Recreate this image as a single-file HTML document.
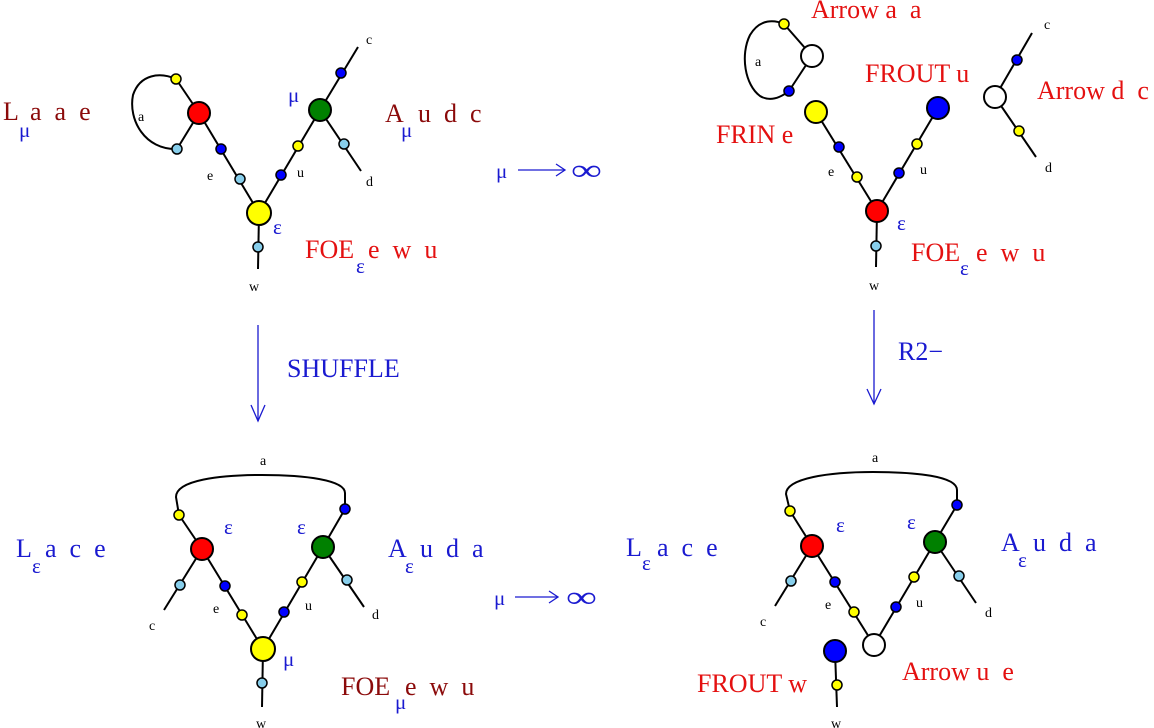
<!DOCTYPE html>
<html><head><meta charset="utf-8"><style>
html,body{margin:0;padding:0;background:#fff;}
svg{display:block;font-family:"Liberation Serif",serif;}
.ln{stroke:#000;stroke-width:2;fill:none;}
.sd{stroke:#000;stroke-width:1.5;}
.bd{stroke:#000;stroke-width:2;}
.sm{font-size:14px;fill:#000;}
.big{font-size:26px;}
.dr{fill:#8b0a0a;}
.rd{fill:#e41010;}
.bl{fill:#1a1ad0;}
.sub{font-size:21px;fill:#1a1ad0;}
.ar{stroke:#1a1ad0;stroke-width:1.3;fill:none;}
</style></head><body>
<svg width="1154" height="728" viewBox="0 0 1154 728">

<!-- TOP LEFT -->
<g>
<path class="ln" d="M176,79 C160,72 140,74 133,95 C128,120 145,150 177,149"/>
<line class="ln" x1="176" y1="79" x2="199" y2="113"/>
<line class="ln" x1="177" y1="149" x2="199" y2="113"/>
<line class="ln" x1="199" y1="113" x2="259" y2="213"/>
<line class="ln" x1="320" y1="110" x2="259" y2="213"/>
<line class="ln" x1="320" y1="110" x2="358" y2="47"/>
<line class="ln" x1="320" y1="110" x2="361" y2="171"/>
<line class="ln" x1="259" y1="213" x2="258" y2="269"/>
<circle class="bd" cx="199" cy="113" r="11" fill="#ff0000"/>
<circle class="bd" cx="320" cy="110" r="11" fill="#008000"/>
<circle class="bd" cx="259" cy="213" r="12" fill="#ffff00"/>
<circle class="sd" cx="176" cy="79" r="5" fill="#ffff00"/>
<circle class="sd" cx="177" cy="149" r="5" fill="#87ceeb"/>
<circle class="sd" cx="221" cy="149" r="5" fill="#0000ff"/>
<circle class="sd" cx="240" cy="179" r="5" fill="#87ceeb"/>
<circle class="sd" cx="281" cy="175" r="5" fill="#0000ff"/>
<circle class="sd" cx="298" cy="146" r="5" fill="#ffff00"/>
<circle class="sd" cx="344" cy="144" r="5" fill="#87ceeb"/>
<circle class="sd" cx="341" cy="73" r="5" fill="#0000ff"/>
<circle class="sd" cx="258" cy="247" r="5" fill="#87ceeb"/>
<text class="sm" x="138" y="121">a</text>
<text class="sm" x="207" y="180">e</text>
<text class="sm" x="297" y="177">u</text>
<text class="sm" x="366" y="44">c</text>
<text class="sm" x="366" y="186">d</text>
<text class="sm" x="249" y="291">w</text>
<text class="sub" x="288" y="102">μ</text>
<text class="sub" x="273" y="234">ε</text>
<text class="big dr" x="3" y="120">L</text>
<text class="sub" x="19" y="137">μ</text>
<text class="big dr" x="30" y="120" xml:space="preserve">a  a  e</text>
<text class="big dr" x="385" y="122">A</text>
<text class="sub" x="401" y="137">μ</text>
<text class="big dr" x="418" y="122" xml:space="preserve">u  d  c</text>
<text class="big rd" x="305" y="258">FOE</text>
<text class="sub" x="356" y="273">ε</text>
<text class="big rd" x="368" y="258" xml:space="preserve">e  w  u</text>
</g>

<g>
<text class="sub" x="496" y="178">μ</text>
<line class="ar" x1="518" y1="170" x2="565" y2="170"/>
<path class="ar" d="M556,164 L565,170 L556,176"/>
<text class="bl" font-size="30" transform="translate(571,180) scale(1.45,1)">∞</text>
</g>

<!-- TOP RIGHT -->
<g>
<path class="ln" d="M784,24 C775,20 760,18 750,35 C740,55 745,85 760,96 C770,102 780,98 789,91"/>
<line class="ln" x1="784" y1="24" x2="812" y2="56"/>
<line class="ln" x1="789" y1="91" x2="812" y2="56"/>
<line class="ln" x1="816" y1="112" x2="877" y2="211"/>
<line class="ln" x1="938" y1="108" x2="877" y2="211"/>
<line class="ln" x1="877" y1="211" x2="876" y2="267"/>
<line class="ln" x1="995" y1="97" x2="1032" y2="33"/>
<line class="ln" x1="995" y1="97" x2="1036" y2="157"/>
<circle class="bd" cx="812" cy="56" r="11" fill="#fff"/>
<circle class="bd" cx="816" cy="112" r="11" fill="#ffff00"/>
<circle class="bd" cx="938" cy="108" r="11" fill="#0000ff"/>
<circle class="bd" cx="877" cy="211" r="11" fill="#ff0000"/>
<circle class="bd" cx="995" cy="97" r="11" fill="#fff"/>
<circle class="sd" cx="784" cy="24" r="5" fill="#ffff00"/>
<circle class="sd" cx="789" cy="91" r="5" fill="#0000ff"/>
<circle class="sd" cx="839" cy="147" r="5" fill="#0000ff"/>
<circle class="sd" cx="857" cy="177" r="5" fill="#ffff00"/>
<circle class="sd" cx="917" cy="144" r="5" fill="#ffff00"/>
<circle class="sd" cx="899" cy="173" r="5" fill="#0000ff"/>
<circle class="sd" cx="876" cy="246" r="5" fill="#87ceeb"/>
<circle class="sd" cx="1017" cy="60" r="5" fill="#0000ff"/>
<circle class="sd" cx="1019" cy="131" r="5" fill="#ffff00"/>
<text class="sm" x="755" y="66">a</text>
<text class="sm" x="828" y="176">e</text>
<text class="sm" x="920" y="174">u</text>
<text class="sm" x="1044" y="29">c</text>
<text class="sm" x="1045" y="172">d</text>
<text class="sm" x="869" y="290">w</text>
<text class="sub" x="897" y="230">ε</text>
<text class="big rd" x="811" y="18" xml:space="preserve">Arrow a  a</text>
<text class="big rd" x="865" y="82" xml:space="preserve">FROUT u</text>
<text class="big rd" x="716" y="143">FRIN e</text>
<text class="big rd" x="1037" y="99" xml:space="preserve">Arrow d  c</text>
<text class="big rd" x="911" y="261">FOE</text>
<text class="sub" x="960" y="275">ε</text>
<text class="big rd" x="976" y="261" xml:space="preserve">e  w  u</text>
</g>

<!-- Vertical arrows -->
<g>
<line class="ar" x1="258" y1="325" x2="258" y2="421"/>
<path class="ar" d="M251,405 L258,421 L265,405"/>
<text class="big bl" x="287" y="377">SHUFFLE</text>
</g>
<g>
<line class="ar" x1="874" y1="310" x2="874" y2="404"/>
<path class="ar" d="M867,389 L874,404 L881,389"/>
<text class="big bl" x="898" y="360">R2−</text>
</g>

<!-- BOTTOM LEFT -->
<g>
<path class="ln" d="M179,515 L176,497 C176,480 220,475 262,475 C305,475 345,480 345,493 L345,509"/>
<line class="ln" x1="179" y1="515" x2="202" y2="549"/>
<line class="ln" x1="202" y1="549" x2="164" y2="610"/>
<line class="ln" x1="202" y1="549" x2="263" y2="649"/>
<line class="ln" x1="323" y1="547" x2="263" y2="649"/>
<line class="ln" x1="323" y1="547" x2="345" y2="509"/>
<line class="ln" x1="323" y1="547" x2="364" y2="607"/>
<line class="ln" x1="263" y1="649" x2="262" y2="707"/>
<circle class="bd" cx="202" cy="549" r="11" fill="#ff0000"/>
<circle class="bd" cx="323" cy="547" r="11" fill="#008000"/>
<circle class="bd" cx="263" cy="649" r="12" fill="#ffff00"/>
<circle class="sd" cx="179" cy="515" r="5" fill="#ffff00"/>
<circle class="sd" cx="345" cy="509" r="5" fill="#0000ff"/>
<circle class="sd" cx="180" cy="585" r="5" fill="#87ceeb"/>
<circle class="sd" cx="225" cy="586" r="5" fill="#0000ff"/>
<circle class="sd" cx="242" cy="615" r="5" fill="#ffff00"/>
<circle class="sd" cx="284" cy="612" r="5" fill="#0000ff"/>
<circle class="sd" cx="302" cy="582" r="5" fill="#ffff00"/>
<circle class="sd" cx="347" cy="580" r="5" fill="#87ceeb"/>
<circle class="sd" cx="262" cy="683" r="5" fill="#87ceeb"/>
<text class="sm" x="260" y="465">a</text>
<text class="sm" x="213" y="613">e</text>
<text class="sm" x="305" y="610">u</text>
<text class="sm" x="149" y="630">c</text>
<text class="sm" x="372" y="619">d</text>
<text class="sm" x="256" y="728">w</text>
<text class="sub" x="224" y="534">ε</text>
<text class="sub" x="297" y="534">ε</text>
<text class="sub" x="283" y="666">μ</text>
<text class="big bl" x="16" y="557">L</text>
<text class="sub" x="32" y="573">ε</text>
<text class="big bl" x="45" y="557" xml:space="preserve">a  c  e</text>
<text class="big bl" x="388" y="557">A</text>
<text class="sub" x="405" y="573">ε</text>
<text class="big bl" x="420" y="557" xml:space="preserve">u  d  a</text>
<text class="big dr" x="341" y="695">FOE</text>
<text class="sub" x="395" y="709">μ</text>
<text class="big dr" x="405" y="695" xml:space="preserve">e  w  u</text>
</g>

<g>
<text class="sub" x="494" y="605">μ</text>
<line class="ar" x1="515" y1="597" x2="558" y2="597"/>
<path class="ar" d="M549,591 L558,597 L549,603"/>
<text class="bl" font-size="30" transform="translate(566,607) scale(1.45,1)">∞</text>
</g>

<!-- BOTTOM RIGHT -->
<g>
<path class="ln" d="M790,511 L786,494 C786,478 830,472 873,472 C915,472 957,476 957,490 L957,505"/>
<line class="ln" x1="790" y1="511" x2="812" y2="546"/>
<line class="ln" x1="812" y1="546" x2="775" y2="606"/>
<line class="ln" x1="812" y1="546" x2="874" y2="645"/>
<line class="ln" x1="935" y1="542" x2="874" y2="645"/>
<line class="ln" x1="935" y1="542" x2="957" y2="505"/>
<line class="ln" x1="935" y1="542" x2="976" y2="603"/>
<line class="ln" x1="835" y1="651" x2="837" y2="707"/>
<circle class="bd" cx="812" cy="546" r="11" fill="#ff0000"/>
<circle class="bd" cx="935" cy="542" r="11" fill="#008000"/>
<circle class="bd" cx="874" cy="645" r="11" fill="#fff"/>
<circle class="bd" cx="835" cy="651" r="11" fill="#0000ff"/>
<circle class="sd" cx="790" cy="511" r="5" fill="#ffff00"/>
<circle class="sd" cx="957" cy="505" r="5" fill="#0000ff"/>
<circle class="sd" cx="791" cy="581" r="5" fill="#87ceeb"/>
<circle class="sd" cx="835" cy="582" r="5" fill="#0000ff"/>
<circle class="sd" cx="854" cy="612" r="5" fill="#ffff00"/>
<circle class="sd" cx="896" cy="607" r="5" fill="#0000ff"/>
<circle class="sd" cx="914" cy="577" r="5" fill="#ffff00"/>
<circle class="sd" cx="959" cy="576" r="5" fill="#87ceeb"/>
<circle class="sd" cx="837" cy="685" r="5" fill="#ffff00"/>
<text class="sm" x="872" y="462">a</text>
<text class="sm" x="825" y="609">e</text>
<text class="sm" x="916" y="607">u</text>
<text class="sm" x="760" y="626">c</text>
<text class="sm" x="985" y="617">d</text>
<text class="sm" x="831" y="728">w</text>
<text class="sub" x="836" y="532">ε</text>
<text class="sub" x="907" y="529">ε</text>
<text class="big bl" x="626" y="556">L</text>
<text class="sub" x="642" y="570">ε</text>
<text class="big bl" x="657" y="556" xml:space="preserve">a  c  e</text>
<text class="big bl" x="1001" y="551">A</text>
<text class="sub" x="1018" y="567">ε</text>
<text class="big bl" x="1033" y="551" xml:space="preserve">u  d  a</text>
<text class="big rd" x="697" y="692" xml:space="preserve">FROUT w</text>
<text class="big rd" x="902" y="680" xml:space="preserve">Arrow u  e</text>
</g>
</svg>
</body></html>
